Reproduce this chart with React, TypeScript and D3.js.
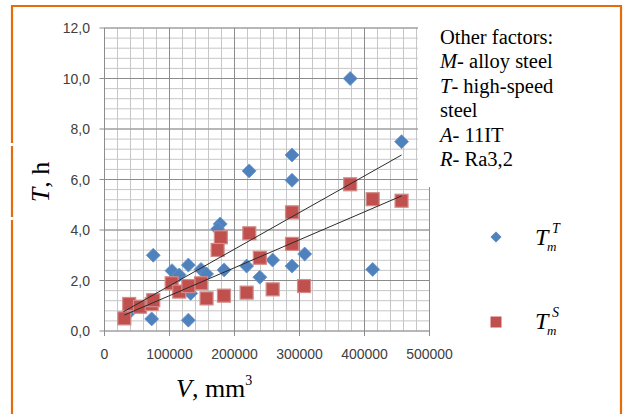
import * as d3 from "d3";

// axis ticks
const xTicks = [0, 100000, 200000, 300000, 400000, 500000];
const yTicks = [0, 2, 4, 6, 8, 10, 12];

// T_m^T (blue diamonds)
const volT = [378000, 457000, 288500, 288500, 222500, 178000, 174000, 75000, 103800, 115000, 129000, 148500, 157000, 184000, 218700, 239000, 258700, 288500, 308000, 412600, 36600, 72600, 129000, 132600];
const lifeT = [10.0, 7.5, 6.97, 5.97, 6.34, 4.24, 4.04, 3.0, 2.39, 2.22, 2.61, 2.44, 2.26, 2.42, 2.57, 2.13, 2.81, 2.57, 3.05, 2.44, 0.7, 0.48, 0.43, 1.49];

// T_m^S (red squares)
const volS = [378000, 412600, 457000, 288500, 288500, 222800, 179000, 174000, 239000, 307000, 258700, 218700, 183800, 157000, 148500, 103300, 115000, 129000, 38000, 54600, 72600, 75000, 30500];
const lifeS = [5.81, 5.22, 5.16, 4.7, 3.45, 3.87, 3.71, 3.21, 2.9, 1.78, 1.65, 1.52, 1.4, 1.29, 1.89, 1.89, 1.56, 1.78, 1.07, 0.96, 1.07, 1.22, 0.5];

// linear trend lines, end points
const trendVolT = [29000, 457000];
const trendLifeT = [0.76, 6.97];
const trendVolS = [30500, 457000];
const trendLifeS = [0.63, 5.35];

const notes = ["Other factors:", "M|- alloy steel", "T|- high-speed", "|steel", "A|- 11IT", "R|- Ra3,2"];

const W = 625;
const H = 414;
const blue = "#4F81BD";
const red = "#C0504D";
const orange = "#E46C0A";

export default function App() {
  const x = d3.scaleLinear().domain([0, 500000]).range([104.5, 429.5]);
  const y = d3.scaleLinear().domain([0, 12]).range([331, 28]);

  const minorX = d3.range(0, 500001, 20000);
  const minorY = d3.range(0, 12.01, 0.4);

  const line = d3.line<number[]>()
    .x((d) => d[0])
    .y((d) => d[1]);

  const trendT = line(trendVolT.map((v, i) => [x(v), y(trendLifeT[i])]));
  const trendS = line(trendVolS.map((v, i) => [x(v), y(trendLifeS[i])]));

  const diamond = (cx: number, cy: number, r: number) =>
    `M${cx},${cy - r}L${cx + r},${cy}L${cx},${cy + r}L${cx - r},${cy}Z`;

  const tickFont = "Liberation Sans, Arial, sans-serif";
  const serif = "Liberation Serif, Times New Roman, serif";

  return (
    <svg width={W} height={H} style={{ position: "absolute", left: 0, top: 0, background: "#fff" }}>
      {/* outer frame */}
      <path d={`M12,${H}V6H621V${H}`} fill="none" stroke={orange} strokeWidth={2.2} />
      <rect x={10} y={143} width={5} height={3} fill="#fff" />
      <rect x={10} y={217} width={5} height={3} fill="#fff" />

      {/* minor grid */}
      <g stroke="#c6c6c6" strokeWidth={1}>
        {minorX.map((v) => (
          <line key={"mx" + v} x1={x(v)} x2={x(v)} y1={y(0)} y2={y(12)} />
        ))}
        {minorY.map((v) => (
          <line key={"my" + v} x1={x(0)} x2={x(500000)} y1={y(v)} y2={y(v)} />
        ))}
      </g>
      {/* major grid */}
      <g stroke="#8c8c8c" strokeWidth={1}>
        {xTicks.map((v) => (
          <line key={"gx" + v} x1={x(v)} x2={x(v)} y1={y(0)} y2={y(12)} />
        ))}
        {yTicks.map((v) => (
          <line key={"gy" + v} x1={x(0) - 5} x2={x(500000)} y1={y(v)} y2={y(v)} />
        ))}
        {xTicks.map((v) => (
          <line key={"tx" + v} x1={x(v)} x2={x(v)} y1={y(0)} y2={y(0) + 5} />
        ))}
      </g>

      {/* tick labels */}
      <g fontFamily={tickFont} fontSize={14} fill="#404040">
        {yTicks.map((v) => (
          <text key={"ly" + v} x={90} y={y(v) + 5} textAnchor="end">
            {v.toFixed(1).replace(".", ",")}
          </text>
        ))}
        {xTicks.map((v) => (
          <text key={"lx" + v} x={x(v)} y={359} textAnchor="middle">
            {v}
          </text>
        ))}
      </g>

      {/* points */}
      {volT.map((v, i) => (
        <path key={"t" + i} d={diamond(x(v), y(lifeT[i]), 7)} fill={blue} stroke="#6a95c9" strokeWidth={0.8} />
      ))}
      {volS.map((v, i) => (
        <rect key={"s" + i} x={x(v) - 6.5} y={y(lifeS[i]) - 6.5} width={13} height={13}
          fill={red} stroke="#d38c8a" strokeWidth={1.2} />
      ))}

      {/* trend lines */}
      <path d={trendT ?? ""} fill="none" stroke="#2b2b2b" strokeWidth={1} />
      <path d={trendS ?? ""} fill="none" stroke="#2b2b2b" strokeWidth={1} />

      {/* notes box */}
      <rect x={418} y={20} width={200} height={167} fill="#fff" />
      <g fontFamily={serif} fontSize={20.5} fill="#000">
        {notes.map((n, i) => {
          const [it, rest] = n.includes("|") ? n.split("|") : ["", n];
          return (
            <text key={"n" + i} x={440} y={44 + i * 24.4}>
              {it && <tspan fontStyle="italic">{it}</tspan>}
              <tspan>{rest}</tspan>
            </text>
          );
        })}
      </g>

      {/* legend */}
      <path d={diamond(496, 237, 5.5)} fill={blue} />
      <rect x={490.5} y={316.5} width={11} height={11} fill={red} />
      <g fontFamily={serif} fontStyle="italic" fill="#000">
        <text x={535} y={245} fontSize={24}>T</text>
        <text x={552} y={233} fontSize={14}>T</text>
        <text x={547} y={251} fontSize={13}>m</text>
        <text x={535} y={329} fontSize={24}>T</text>
        <text x={552} y={317} fontSize={14}>S</text>
        <text x={547} y={335} fontSize={13}>m</text>
      </g>

      {/* axis titles */}
      <text x={176} y={397} fontFamily={serif} fontSize={26} fill="#000">
        <tspan fontStyle="italic">V</tspan>, mm
        <tspan fontSize={14} dy={-12}>3</tspan>
      </text>
      <text transform="translate(49,182) rotate(-90)" textAnchor="middle" fontFamily={serif} fontSize={26} fill="#000">
        <tspan fontStyle="italic">T</tspan>, h
      </text>
    </svg>
  );
}
